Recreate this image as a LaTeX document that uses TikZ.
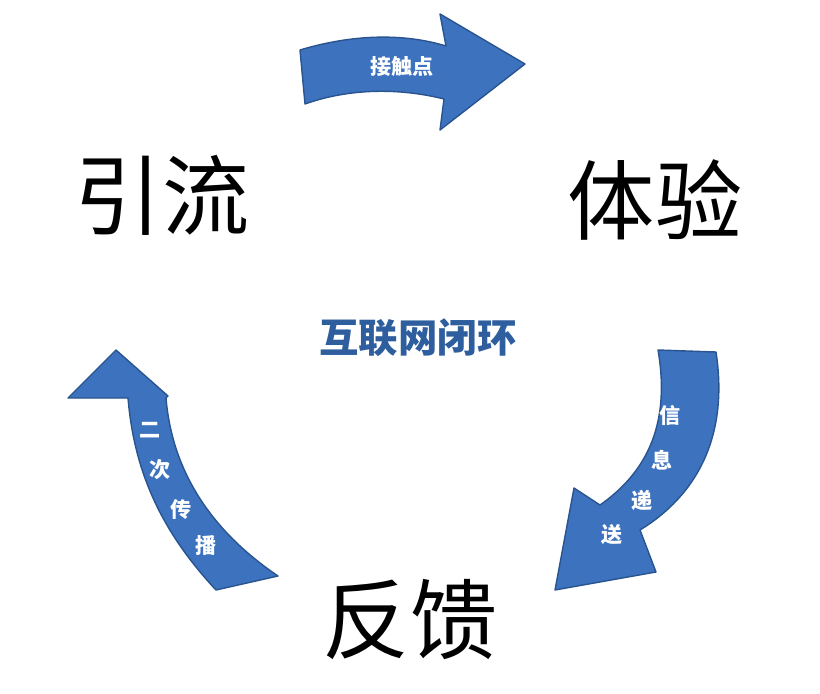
\documentclass[tikz,border=0pt]{standalone}
\usepackage{fontspec}
\newfontfamily\cjk{Noto Sans CJK SC}
\definecolor{arrowblue}{HTML}{3C72BE}
\definecolor{edgeblue}{HTML}{2A5490}
\definecolor{textblue}{HTML}{2E5E9E}
\tikzset{
  bigword/.style={font=\cjk\fontsize{62}{62}\selectfont},
  midword/.style={font=\cjk\bfseries\fontsize{28}{28}\selectfont, text=textblue},
  band/.style={fill=arrowblue, draw=edgeblue, line width=1pt, line join=round},
  tag/.style={font=\cjk\bfseries\fontsize{15}{15}\selectfont, text=white}
}
\begin{document}
\begin{tikzpicture}[x=0.025cm, y=-0.025cm]
  \useasboundingbox (0,0) rectangle (820,694);

  % top arrow
  \fill[band] (300,50) .. controls (360,32) and (410,35) .. (446,46)
    -- (440,14) -- (525,64) -- (440,130) -- (444,99)
    .. controls (400,88) and (350,88) .. (305,104) -- cycle;
  % right arrow
  \fill[band] (716,352) .. controls (728,430) and (702,492) .. (640,530)
    -- (656,572) -- (555,590) -- (574,488) -- (600,505)
    .. controls (650,470) and (670,420) .. (658,350) -- cycle;
  % left arrow
  \fill[band] (216,590) .. controls (160,530) and (134,470) .. (128,398)
    -- (68,398) -- (116,350) -- (168,396) -- (166,398)
    .. controls (172,470) and (210,530) .. (278,576) -- cycle;

  \node[bigword] (yin)  at (162,195) {引流};
  \node[bigword] (ti)   at (655,200) {体验};
  \node[bigword] (fan)  at (410,620) {反馈};
  \node[midword] (loop) at (418,338) {互联网闭环};

  \node[tag] (jie) at (402,66) {接触点};
  \node[tag] (x1) at (670,415) {信};
  \node[tag] (x2) at (662,460) {息};
  \node[tag] (x3) at (642,500) {递};
  \node[tag] (x4) at (612,535) {送};
  \node[tag] (e1) at (150,430) {二};
  \node[tag] (e2) at (160,470) {次};
  \node[tag] (e3) at (181,510) {传};
  \node[tag] (e4) at (206,546) {播};
\end{tikzpicture}
\end{document}
